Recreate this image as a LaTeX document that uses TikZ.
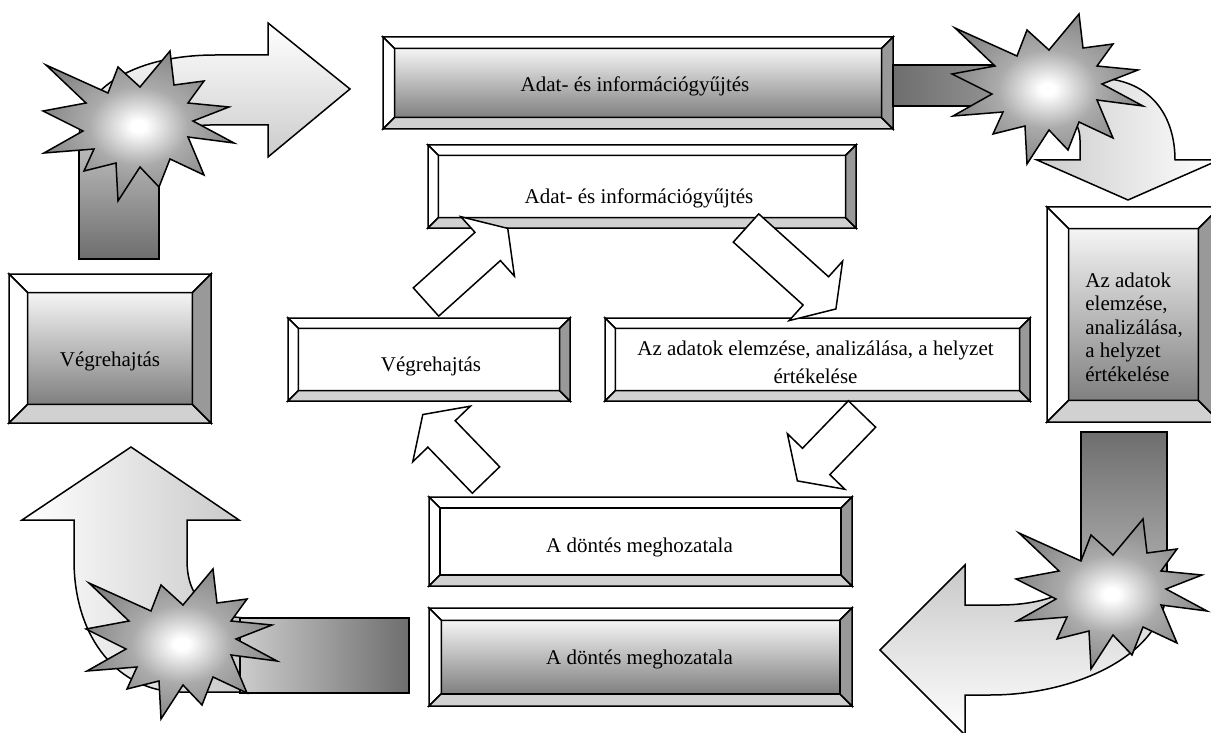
\documentclass[tikz,border=0pt]{standalone}
\usepackage{fontspec}
\setmainfont{Liberation Serif}
\usetikzlibrary{calc}
\definecolor{bevel-bottom}{gray}{0.82}
\definecolor{bevel-right}{gray}{0.6}
\tikzstyle{bevel}=[draw=black, line width=0.75pt, line join=miter]
\tikzstyle{plainface}=[fill=white]
\tikzstyle{shadedface}=[top color=black!4, bottom color=black!50]
\tikzstyle{boxtext}=[font=\fontsize{10.5}{11.7}\selectfont, inner sep=0pt]
\tikzstyle{innerarrow}=[draw=black, fill=white, line width=0.75pt, line join=miter]
\tikzstyle{sweep}=[draw=black, line width=0.75pt, line join=miter]
\tikzstyle{bar}=[draw=black, line width=0.75pt]
\pgfdeclareradialshading{burst}{\pgfpoint{0bp}{0bp}}{color(0bp)=(white); color(2bp)=(white); color(13bp)=(black!33); color(28bp)=(black!50); color(50bp)=(black!56)}
% bevelled box: name, x1, y1, x2, y2, face style (bevel is 1/8 of the short side)
\newcommand{\bevelbox}[6]{
  \pgfmathsetmacro{\bw}{0.125*min(#4-#2,#5-#3)}
  \pgfmathsetmacro{\xa}{#2+\bw} \pgfmathsetmacro{\xb}{#4-\bw}
  \pgfmathsetmacro{\ya}{#3+\bw} \pgfmathsetmacro{\yb}{#5-\bw}
  \path[#6] (\xa,\ya) rectangle (\xb,\yb);
  \filldraw[bevel, fill=white] (#2,#3) -- (#4,#3) -- (\xb,\ya) -- (\xa,\ya) -- cycle; % top
  \filldraw[bevel, fill=white] (#2,#3) -- (\xa,\ya) -- (\xa,\yb) -- (#2,#5) -- cycle; % left
  \filldraw[bevel, fill=bevel-bottom] (#2,#5) -- (\xa,\yb) -- (\xb,\yb) -- (#4,#5) -- cycle; % bottom
  \filldraw[bevel, fill=bevel-right] (#4,#3) -- (\xb,\ya) -- (\xb,\yb) -- (#4,#5) -- cycle; % right
  \draw[bevel] (\xa,\ya) rectangle (\xb,\yb);
  \coordinate (#1) at ({(#2+#4)/2},{(#3+#5)/2});
}
% white block arrow: tail coordinate, angle, length
\newcommand{\blockarrow}[3]{
  \begin{scope}[shift={(#1)}, rotate=#2]
  \draw[innerarrow] (0,-19) -- ({#3-27},-19) -- ({#3-27},-40) -- (#3,0) -- ({#3-27},40) -- ({#3-27},19) -- (0,19) -- cycle;
  \end{scope}
}
% twelve point burst round a coordinate
\newcommand{\drawburst}[1]{
  \shadedraw[shading=burst, line width=0.75pt, line join=miter, shift={(#1)}]
    (32,-72) -- (2,-36) -- (-20,-56) -- (-30,-30) -- (-92,-58) -- (-52,-20) -- (-95,-12) -- (-55,8)
    -- (-94,30) -- (-44,26) -- (-54,48) -- (-22,40) -- (-20,78) -- (2,44) -- (21,64) -- (32,36)
    -- (66,52) -- (50,14) -- (96,20) -- (55,-2) -- (91,-16) -- (50,-20) -- (66,-42) -- (36,-38) -- cycle;
}

\begin{document}
\begin{tikzpicture}[x=0.5pt, y=-0.5pt]
\useasboundingbox (0,0) rectangle (1211,733);
% outer ring
\bevelbox{gyujtO}{383}{37}{893}{129}{shadedface}
\bevelbox{elemzO}{1047}{207}{1220}{422}{shadedface}
\bevelbox{dontesO}{429}{608}{852}{706}{shadedface}
\bevelbox{vegreO}{9}{274}{211}{423}{shadedface}
% inner ring
\bevelbox{gyujtI}{428}{145}{856}{228}{plainface}
\bevelbox{elemzI}{605}{318}{1030}{401}{plainface}
\bevelbox{dontesI}{429}{497}{852}{586}{plainface}
\bevelbox{vegreI}{288}{318}{570}{401}{plainface}
% labels (base of a multi-line label is its last line)
\node[boxtext, anchor=base] (gyujtO-text) at ($(gyujtO)+(-3,9)$) {Adat- és információgyűjtés};
\node[boxtext, anchor=base west, align=left] (elemzO-text) at ($(elemzO)+(-48.5,66.5)$) {Az adatok\\elemzése,\\analizálása,\\a helyzet\\értékelése};
\node[boxtext, anchor=base] (dontesO-text) at ($(dontesO)+(-1,7)$) {A döntés meghozatala};
\node[boxtext, anchor=base] (vegreO-text) at ($(vegreO)+(0,17.5)$) {Végrehajtás};
\node[boxtext, anchor=base] (gyujtI-text) at ($(gyujtI)+(-3,17.5)$) {Adat- és információgyűjtés};
\node[boxtext, anchor=base, align=center, font=\fontsize{10.5}{14}\selectfont] (elemzI-text) at ($(elemzI)+(-2,23.5)$) {Az adatok elemzése, analizálása, a helyzet\\értékelése};
\node[boxtext, anchor=base] (dontesI-text) at ($(dontesI)+(-1,10.5)$) {A döntés meghozatala};
\node[boxtext, anchor=base] (vegreI-text) at ($(vegreI)+(2,11.5)$) {Végrehajtás};
% inner ring arrows
\coordinate (tailA) at (426,302);
\coordinate (tailB) at (746,228);
\coordinate (tailC) at (862,414);
\coordinate (tailD) at (486,480);
\blockarrow{tailA}{42}{110}
\blockarrow{tailB}{-42}{121}
\blockarrow{tailC}{226}{93}
\blockarrow{tailD}{134}{91}
% outer ring: light sweeps
\path[sweep, top color=white, bottom color=black!22] (79,170) -- (79,140) .. controls (79,85) and (140,55) .. (215,55) -- (268,55) -- (268,23) -- (350,89) -- (268,157) -- (268,125) -- (210,125) .. controls (180,125) and (159,140) .. (159,165) -- (159,170) -- cycle;
\path[sweep, left color=black!25, right color=white] (990,106) -- (990,78) -- (1095,78) .. controls (1150,78) and (1175,115) .. (1175,160) -- (1219,160) -- (1128,200) -- (1037,160) -- (1080,160) -- (1080,140) .. controls (1080,120) and (1065,106) .. (1040,106) -- cycle;
\path[sweep, top color=black!22, bottom color=white] (1081,560) -- (1167,560) -- (1167,585) .. controls (1167,655) and (1075,695) .. (990,695) -- (965,695) -- (965,735) -- (880,650) -- (965,565) -- (965,605) -- (1000,605) .. controls (1045,605) and (1081,590) .. (1081,570) -- cycle;
\path[sweep, left color=white, right color=black!22] (250,692) -- (180,692) .. controls (120,692) and (74,640) .. (74,560) -- (74,520) -- (22,520) -- (131,447) -- (239,520) -- (187,520) -- (187,560) .. controls (187,600) and (210,618) .. (250,618) -- cycle;
% outer ring: dark bars
\path[bar, top color=black!25, bottom color=black!57] (79,140) rectangle (159,259);
\path[bar, left color=black!57, right color=black!42] (893,65) rectangle (1000,106);
\path[bar, top color=black!57, bottom color=black!30] (1081,432) rectangle (1167,590);
\path[bar, left color=black!20, right color=black!57] (240,618) rectangle (409,693);
% bursts
\coordinate (burstTL) at (138,123);
\coordinate (burstTR) at (1047,86);
\coordinate (burstBR) at (1111,591);
\coordinate (burstBL) at (181,641);
\drawburst{burstTL}
\drawburst{burstTR}
\drawburst{burstBR}
\drawburst{burstBL}
\end{tikzpicture}
\end{document}
